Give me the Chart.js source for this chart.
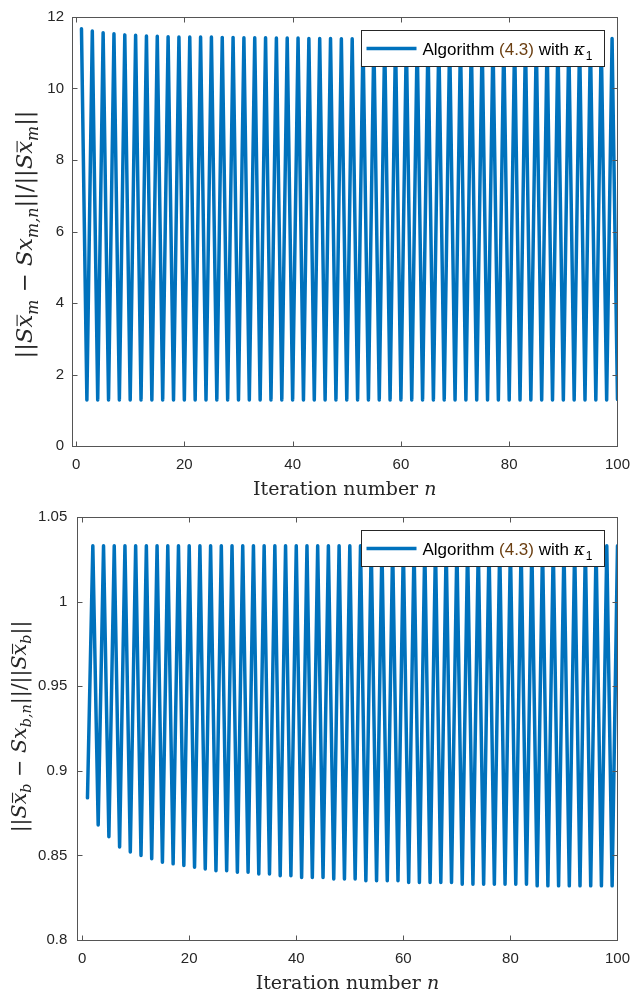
<!DOCTYPE html>
<html>
<head>
<meta charset="utf-8">
<script src="https://cdn.jsdelivr.net/npm/chart.js@4/dist/chart.umd.min.js"></script>
<style>
  body { margin: 0; background: #fff; }
  canvas { display: block; }
</style>
</head>
<body>
<canvas id="chart-m" width="640" height="498"></canvas>
<canvas id="chart-b" width="640" height="498"></canvas>
<script>
// iteration numbers n = 1..100
const iterations = Array.from({ length: 100 }, (_, i) => i + 1);

// top panel: odd n (peaks) and even n (troughs)
const mOddValues = [
  11.67, 11.61, 11.56, 11.53, 11.50, 11.49, 11.47, 11.46, 11.45, 11.44,
  11.44, 11.44, 11.44, 11.43, 11.43, 11.42, 11.42, 11.42, 11.41, 11.41,
  11.41, 11.40, 11.40, 11.40, 11.39, 11.39, 11.39, 11.39, 11.39, 11.39,
  11.39, 11.39, 11.39, 11.39, 11.39, 11.38, 11.38, 11.38, 11.38, 11.38,
  11.38, 11.38, 11.38, 11.38, 11.38, 11.38, 11.38, 11.38, 11.38, 11.40
];
const mEvenValues = [
  1.29, 1.29, 1.29, 1.29, 1.29, 1.29, 1.29, 1.29, 1.29, 1.29,
  1.29, 1.29, 1.29, 1.29, 1.29, 1.29, 1.29, 1.29, 1.29, 1.29,
  1.29, 1.29, 1.29, 1.29, 1.29, 1.29, 1.29, 1.29, 1.29, 1.29,
  1.29, 1.29, 1.29, 1.29, 1.29, 1.29, 1.29, 1.29, 1.29, 1.29,
  1.29, 1.29, 1.29, 1.29, 1.29, 1.29, 1.29, 1.29, 1.29, 1.30
];

// bottom panel: odd n (troughs) and even n (peaks)
const bOddValues = [
  0.884, 0.868, 0.861, 0.855, 0.852, 0.850, 0.848, 0.846, 0.845, 0.844,
  0.843, 0.842, 0.841, 0.841, 0.840, 0.840, 0.839, 0.839, 0.838, 0.838,
  0.837, 0.837, 0.837, 0.836, 0.836, 0.836, 0.835, 0.835, 0.835, 0.835,
  0.834, 0.834, 0.834, 0.834, 0.834, 0.833, 0.833, 0.833, 0.833, 0.833,
  0.833, 0.833, 0.832, 0.832, 0.832, 0.832, 0.832, 0.832, 0.832, 0.832
];
const bEvenValues = [
  1.033, 1.033, 1.033, 1.033, 1.033, 1.033, 1.033, 1.033, 1.033, 1.033,
  1.033, 1.033, 1.033, 1.033, 1.033, 1.033, 1.033, 1.033, 1.033, 1.033,
  1.033, 1.033, 1.033, 1.033, 1.033, 1.033, 1.033, 1.033, 1.033, 1.033,
  1.033, 1.033, 1.033, 1.033, 1.033, 1.033, 1.033, 1.033, 1.033, 1.033,
  1.033, 1.033, 1.033, 1.033, 1.033, 1.033, 1.033, 1.033, 1.033, 1.033
];

const xTicks = [0, 20, 40, 60, 80, 100];
const mYTicks = [0, 2, 4, 6, 8, 10, 12];
const bYTicks = [0.8, 0.85, 0.9, 0.95, 1, 1.05];

const legendParts = [
  { t: 'Algorithm ' },
  { t: '(4.3)', c: '#6b3f12' },
  { t: ' with ' },
  { t: 'κ', kappa: true },
  { t: '1', sub: true }
];

const xTitle = [{ t: 'Iteration number ' }, { t: 'n', i: true }];
const mYTitle = [
  { t: '||' }, { t: 'S', i: true }, { t: 'x', i: true, bar: true }, { t: 'm', i: true, sub: true },
  { t: ' − ' }, { t: 'S', i: true }, { t: 'x', i: true }, { t: 'm,n', i: true, sub: true },
  { t: '||/||' }, { t: 'S', i: true }, { t: 'x', i: true, bar: true }, { t: 'm', i: true, sub: true },
  { t: '||' }
];
const bYTitle = [
  { t: '||' }, { t: 'S', i: true }, { t: 'x', i: true, bar: true }, { t: 'b', i: true, sub: true },
  { t: ' − ' }, { t: 'S', i: true }, { t: 'x', i: true }, { t: 'b,n', i: true, sub: true },
  { t: '||/||' }, { t: 'S', i: true }, { t: 'x', i: true, bar: true }, { t: 'b', i: true, sub: true },
  { t: '||' }
];

const BLUE = '#0072BD';
const INK = '#262626';

function interleave(odd, even) {
  return iterations.map(n => ({ x: n, y: n % 2 ? odd[(n - 1) / 2] : even[n / 2 - 1] }));
}

// draws a small formula; if fitLen is given the font size is chosen so the text is that long
function drawMath(ctx, parts, size, x, y, rotate, fitLen) {
  const fontOf = (p, s) => (p.i ? 'italic ' : '') + (p.sub ? (s * 0.7).toFixed(1) : s) + 'px "DejaVu Serif"';
  const measure = s => parts.reduce((w, p) => { ctx.font = fontOf(p, s); p.w = ctx.measureText(p.t).width; return w + p.w; }, 0);
  ctx.save();
  let w = measure(size);
  if (fitLen) { size = size * fitLen / w; w = measure(size); }
  ctx.translate(x, y);
  if (rotate) ctx.rotate(-Math.PI / 2);
  let cx = -w / 2;
  ctx.fillStyle = INK;
  ctx.textBaseline = 'alphabetic';
  ctx.textAlign = 'left';
  parts.forEach(p => {
    ctx.font = fontOf(p, size);
    ctx.fillText(p.t, cx, p.sub ? size * 0.25 : 0);
    if (p.bar) ctx.fillRect(cx + 1.5, -size * 0.68, p.w - 1.5, 1.1);
    cx += p.w;
  });
  ctx.restore();
}

const axesBox = {
  id: 'axesBox',
  afterDatasetsDraw(chart, args, opts) {
    const { ctx, chartArea: a, scales: { x, y } } = chart;
    ctx.save();
    // legend box over the data, top right
    const lw = 243, lh = 36;
    const lx = Math.round(a.right - 13 - lw) + 0.5, ly = Math.round(a.top + 13) + 0.5;
    ctx.fillStyle = '#fff';
    ctx.fillRect(lx, ly, lw, lh);
    ctx.strokeStyle = INK;
    ctx.lineWidth = 1;
    ctx.strokeRect(lx, ly, lw, lh);
    const my = ly + lh / 2;
    ctx.strokeStyle = BLUE;
    ctx.lineWidth = 3.5;
    ctx.beginPath();
    ctx.moveTo(lx + 5, my);
    ctx.lineTo(lx + 55, my);
    ctx.stroke();
    let tx = lx + 61;
    ctx.textBaseline = 'alphabetic';
    legendParts.forEach(p => {
      ctx.font = p.kappa ? 'italic 17px "DejaVu Serif"' : (p.sub ? '12px "Liberation Sans"' : '17px "Liberation Sans"');
      ctx.fillStyle = p.c || '#000';
      ctx.fillText(p.t, tx, my + (p.sub ? 11 : 6));
      tx += ctx.measureText(p.t).width + (p.kappa ? 1 : 0);
    });

    // box and inward ticks
    ctx.strokeStyle = '#555';
    ctx.lineWidth = 1;
    const L = Math.round(a.left) + 0.5, R = Math.round(a.right) + 0.5;
    const T = Math.round(a.top) + 0.5, B = Math.round(a.bottom) + 0.5;
    ctx.strokeRect(L, T, R - L, B - T);
    ctx.beginPath();
    x.ticks.forEach(t => {
      const px = Math.round(x.getPixelForValue(t.value)) + 0.5;
      ctx.moveTo(px, B); ctx.lineTo(px, B - 5);
      ctx.moveTo(px, T); ctx.lineTo(px, T + 5);
    });
    y.ticks.forEach(t => {
      const py = Math.round(y.getPixelForValue(t.value)) + 0.5;
      ctx.moveTo(L, py); ctx.lineTo(L + 5, py);
      ctx.moveTo(R, py); ctx.lineTo(R - 5, py);
    });
    ctx.stroke();
    ctx.restore();

    drawMath(ctx, xTitle, 19, (a.left + a.right) / 2, a.bottom + 49, false);
    drawMath(ctx, opts.yTitle, 19, opts.yTitleX, (a.top + a.bottom) / 2 + opts.yTitleShift, true, opts.yTitleLen);
  }
};

function makeChart(id, points, c) {
  return new Chart(document.getElementById(id), {
    type: 'line',
    data: {
      datasets: [{
        data: points,
        borderColor: BLUE,
        borderWidth: 3.5,
        pointRadius: 0,
        tension: 0,
        borderJoinStyle: 'round',
        borderCapStyle: 'round'
      }]
    },
    options: {
      responsive: false,
      animation: false,
      events: [],
      layout: { padding: { left: 0, right: c.padRight, top: c.padTop, bottom: 0 } },
      scales: {
        x: {
          type: 'linear',
          min: c.xMin,
          max: 100,
          afterBuildTicks: s => { s.ticks = xTicks.map(v => ({ value: v })); },
          afterFit: s => { s.height = c.xHeight; },
          ticks: { color: INK, padding: 10, font: { family: 'Liberation Sans', size: 15 }, callback: v => String(v) },
          grid: { display: false, drawTicks: false },
          border: { display: false }
        },
        y: {
          min: c.yMin,
          max: c.yMax,
          afterBuildTicks: s => { s.ticks = c.yTicks.map(v => ({ value: v })); },
          afterFit: s => { s.width = c.yWidth; },
          ticks: { color: INK, padding: c.yPad, font: { family: 'Liberation Sans', size: 15 }, callback: v => String(v) },
          grid: { display: false, drawTicks: false },
          border: { display: false }
        }
      },
      plugins: {
        legend: { display: false },
        tooltip: { enabled: false },
        axesBox: { yTitle: c.yTitle, yTitleX: c.yTitleX, yTitleShift: c.yTitleShift, yTitleLen: c.yTitleLen }
      }
    },
    plugins: [axesBox]
  });
}

makeChart('chart-m', interleave(mOddValues, mEvenValues), {
  xMin: -0.75, yMin: 0, yMax: 12, yTicks: mYTicks,
  padRight: 21, padTop: 11.5, xHeight: 52, yWidth: 72, yPad: 8,
  yTitle: mYTitle, yTitleX: 32, yTitleShift: 3, yTitleLen: 248
});

makeChart('chart-b', interleave(bOddValues, bEvenValues), {
  xMin: -0.9, yMin: 0.8, yMax: 1.05, yTicks: bYTicks,
  padRight: 14.3, padTop: 8.7, xHeight: 56, yWidth: 77.3, yPad: 10,
  yTitle: bYTitle, yTitleX: 26, yTitleShift: -2, yTitleLen: 212
});
</script>
</body>
</html>
